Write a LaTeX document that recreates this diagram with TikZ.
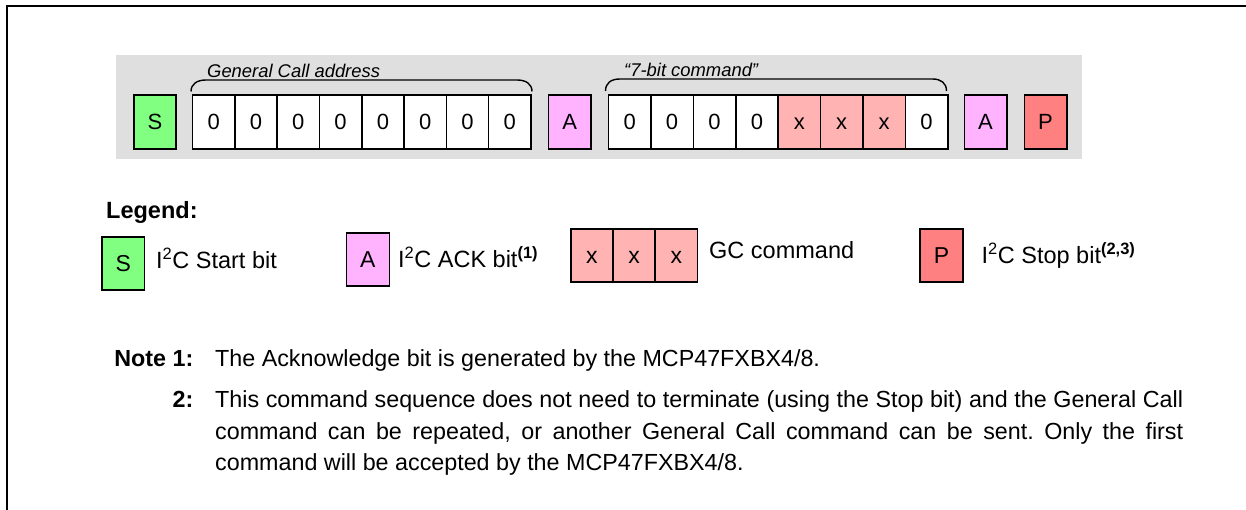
\documentclass[tikz,border=0pt]{standalone}
\usepackage{fontspec}
\setmainfont{Liberation Sans}
\frenchspacing
\definecolor{bandgrey}{RGB}{223,223,223}
\definecolor{startgreen}{RGB}{128,255,128}
\definecolor{ackpink}{RGB}{255,179,255}
\definecolor{gcpink}{RGB}{255,179,179}
\definecolor{stopred}{RGB}{255,128,128}
\tikzset{
  cell/.style={draw, line width=1.6pt, minimum width=42.4pt, minimum height=54pt,
    inner sep=0pt, text height=15.6pt, text depth=0pt,
    font=\fontsize{22}{26}\selectfont, anchor=north west},
  lcell/.style={cell, minimum width=42.8pt, minimum height=53.4pt, font=\fontsize{23}{27}\selectfont, text height=16.3pt},
  lbl/.style={anchor=base west, inner sep=0pt, font=\fontsize{23.5}{28}\selectfont},
  brlbl/.style={anchor=base west, inner sep=0pt, font=\fontsize{18.4}{22}\selectfont\itshape},
  notetxt/.style={anchor=base west, inner sep=0pt, font=\fontsize{23.3}{29}\selectfont},
  notelbl/.style={anchor=base east, inner sep=0pt, font=\fontsize{23.3}{29}\selectfont\bfseries},
  brace/.style={line width=1.4pt},
}
\begin{document}
\begin{tikzpicture}[x=1pt,y=-1pt]
\useasboundingbox (0,0) rectangle (1246,510);
\draw[line width=2pt] (7,510) -- (7,6) -- (1246,6);
\fill[bandgrey] (116,55) rectangle (1082,159);
% main row
\node[cell, fill=startgreen] (s) at (133,94) {S};
\foreach \i in {0,...,7} {
  \node[cell, fill=white] (a\i) at (191.7+42.3*\i,94) {0};
}
\node[cell, fill=ackpink] (ack1) at (547.7,94) {A};
\foreach \i/\t/\c in {0/0/white,1/0/white,2/0/white,3/0/white,4/x/gcpink,5/x/gcpink,6/x/gcpink,7/0/white} {
  \node[cell, fill=\c] (c\i) at (607.7+42.4*\i,94) {\t};
}
\node[cell, fill=ackpink] (ack2) at (963.5,94) {A};
\node[cell, fill=stopred] (p) at (1023.5,94) {P};
% braces
\draw[brace] (191,91.5) .. controls (191,84) and (197,80) .. (206,80) -- (517,80)
  .. controls (526,80) and (532,84) .. (532,91.5);
\draw[brace] (605.5,91) .. controls (605.5,83) and (611,79) .. (620,79) -- (932.5,79)
  .. controls (941,79) and (946.5,83) .. (946.5,91);
\node[brlbl] (gcaddr) at (207,78) {General Call address};
\node[brlbl] (cmd7) at (624,76.5) {“7-bit command”};
% legend
\node[lbl, font=\fontsize{23.5}{28}\selectfont\bfseries] (legend) at (106,219) {Legend:};
\node[lcell, fill=startgreen] (ls) at (101,236) {S};
\node[lbl] (lstext) at (156,269) {I\textsuperscript{2}C Start bit};
\node[lcell, fill=ackpink] (la) at (345.7,232) {A};
\node[lbl] (latext) at (398,267.5) {I\textsuperscript{2}C ACK bit\textsuperscript{\bfseries(1)}};
\foreach \i in {0,1,2} {
  \node[lcell, fill=gcpink, minimum width=42.2pt] (lx\i) at (570+42.2*\i,228) {x};
}
\node[lbl] (lxtext) at (709,258.5) {GC command};
\node[lcell, fill=stopred] (lp) at (919.3,228) {P};
\node[lbl] (lptext) at (981.5,263.5) {I\textsuperscript{2}C Stop bit\textsuperscript{\bfseries(2,3)}};
% notes
\node[notelbl] (n1) at (193.5,366) {Note 1:};
\node[notetxt] (n1t) at (215,366) {The Acknowledge bit is generated by the MCP47FXBX4/8.};
\node[notelbl] (n2) at (193.5,407) {2:};
\node[notetxt] (n2a) at (215,407) {\makebox[968pt][s]{This command sequence does not need to terminate (using the Stop bit) and the General Call}};
\node[notetxt] (n2b) at (215,439) {\makebox[968pt][s]{command can be repeated, or another General Call command can be sent. Only the first}};
\node[notetxt] (n2c) at (215,470) {command will be accepted by the MCP47FXBX4/8.};
\end{tikzpicture}
\end{document}
